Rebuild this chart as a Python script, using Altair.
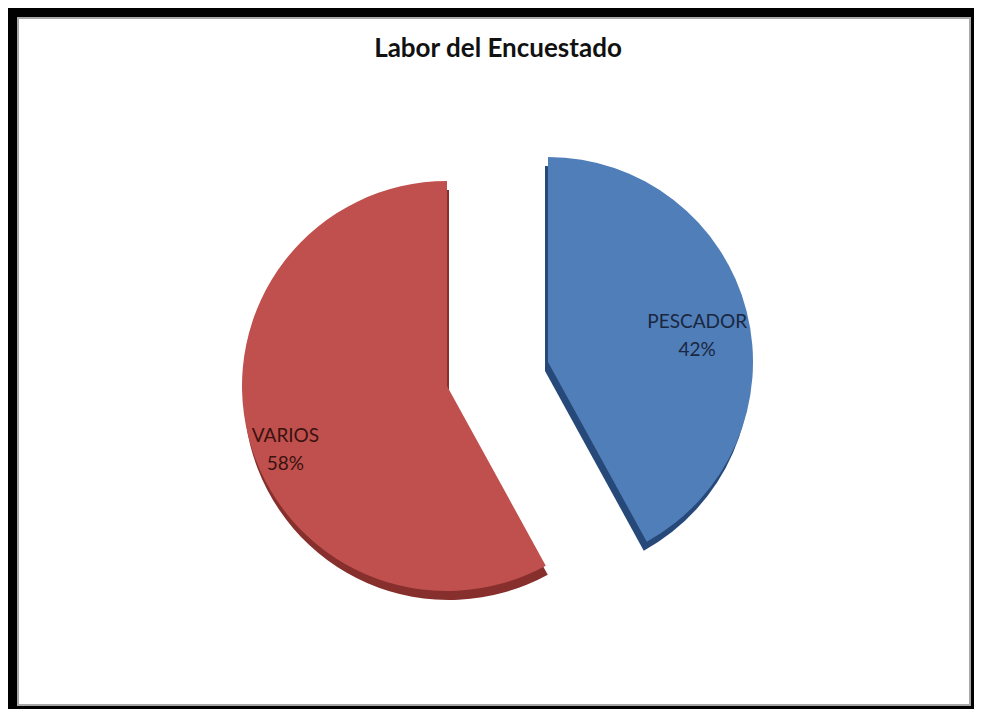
import altair as alt
import pandas as pd

title_text = "Labor del Encuestado"
labels = ["PESCADOR", "VARIOS"]
values = [42, 58]
order = [1, 2]

df = pd.DataFrame({"label": labels, "value": values, "order": order})

W, H = 966, 701
R = 205
theta_scale = alt.Scale(domain=[0, 100], range=[0, 6.283185307179586])

base = (
    alt.Chart(df)
    .transform_window(cum="sum(value)", sort=[alt.SortField("order")], frame=[None, 0])
    .transform_calculate(
        start="datum.cum - datum.value",
        mid="datum.cum - datum.value / 2",
        txt="datum.label + '\\n' + datum.value + '%'",
    )
)


def slice_layer(lbl, cx, cy, color):
    return (
        base.transform_filter(alt.datum.label == lbl)
        .mark_arc(radius=R, color=color)
        .encode(
            theta=alt.Theta("start:Q", scale=theta_scale),
            theta2="cum:Q",
            x=alt.value(cx),
            y=alt.value(cy),
        )
    )


def label_layer(lbl, cx, cy, r, color, dx=0, dy=0):
    return (
        base.transform_filter(alt.datum.label == lbl)
        .mark_text(font="Lato", fontSize=19, lineBreak="\n", lineHeight=28,
                   color=color, align="center", baseline="middle", dx=dx, dy=dy)
        .encode(
            text="txt:N",
            theta=alt.Theta("mid:Q", scale=theta_scale),
            radius=alt.value(r),
            x=alt.value(cx),
            y=alt.value(cy),
        )
    )


# centers (chart coordinates)
bx, by = 540, 354
rx, ry = 439, 378
depth = 9

layers = [
    slice_layer("VARIOS", rx + 2, ry + depth, "#862F2D"),
    slice_layer("PESCADOR", bx - 3, by + depth, "#27497A"),
    slice_layer("VARIOS", rx, ry, "#C0504D"),
    slice_layer("PESCADOR", bx, by, "#4F7EB9"),
    label_layer("PESCADOR", bx, by, 152, "#1A2740", 2, -2),
    label_layer("VARIOS", rx, ry, 172, "#3A1210", 5, 7),
]

title = alt.Chart(pd.DataFrame({"t": [title_text]})).mark_text(
    font="Lato", fontSize=26, fontWeight="bold", color="#111111",
    align="center", baseline="middle"
).encode(text="t:N", x=alt.value(490), y=alt.value(41))

border_df = pd.DataFrame({"k": [0]})


def band(x, x2, y, y2, color):
    return alt.Chart(border_df).mark_rect(color=color, strokeWidth=0).encode(
        x=alt.value(x), x2=alt.value(x2), y=alt.value(y), y2=alt.value(y2)
    )


borders = [
    band(9, 11, 9, H - 3, "#A8A8A8"),
    band(9, W - 3, 9, 11, "#A8A8A8"),
    band(W - 5, W - 3, 9, H - 3, "#A8A8A8"),
    band(9, W - 3, H - 5, H - 3, "#A8A8A8"),
    band(0, 9, 0, H, "#000000"),
    band(0, W, 0, 9, "#000000"),
    band(W - 3, W, 0, H, "#000000"),
    band(0, W, H - 3, H, "#000000"),
]

chart = (
    alt.layer(*layers, title, *borders)
    .properties(
        width=W,
        height=H,
        padding={"left": 0, "top": 0, "right": 0, "bottom": 0},
        background="white",
        autosize=alt.AutoSizeParams(type="fit", contains="padding"),
    )
    .configure_view(stroke=None)
)

chart.save("out.html", embed_options={"renderer": "svg", "actions": False})
